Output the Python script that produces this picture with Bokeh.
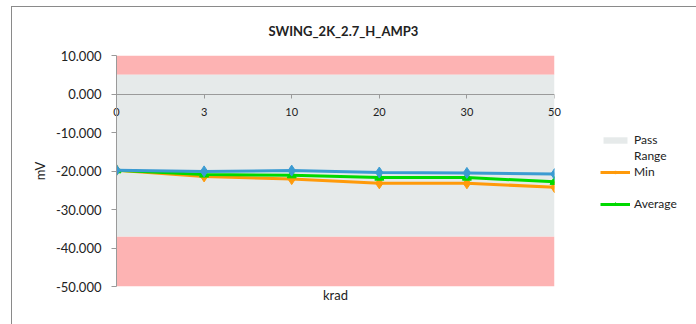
from bokeh.plotting import figure
from bokeh.models import (FixedTicker, NumeralTickFormatter, LinearAxis, Legend, LegendItem,
                          Range1d, CustomJSTickFormatter)
from bokeh.embed import file_html
from bokeh.resources import INLINE

title = "SWING_2K_2.7_H_AMP3"
categories = ["0", "3", "10", "20", "30", "50"]
max_vals = [-19.8, -20.1, -19.9, -20.4, -20.5, -20.8]
min_vals = [-19.8, -21.4, -22.1, -23.2, -23.2, -24.2]
avg_vals = [-19.8, -20.9, -21.1, -21.7, -21.7, -22.8]
pass_upper = 5.0
pass_lower = -37.0
y_min, y_max = -50.0, 10.0
y_ticks = [10, 0, -10, -20, -30, -40, -50]

FONT = "Lato"
TXT = "#222222"
AX = "#9a9a9a"
xs = list(range(len(categories)))

p = figure(width=679, height=320, output_backend="svg", toolbar_location=None,
           x_range=Range1d(0, len(categories) - 1), y_range=Range1d(y_min, y_max),
           min_border_left=104, min_border_top=48, min_border_bottom=39, min_border_right=10,
           frame_width=438, frame_height=231)
p.styles = {"border": "1px solid #8a8a8a", "box-sizing": "border-box",
            "margin-left": "11px", "margin-top": "6px"}
p.outline_line_color = None
p.xgrid.visible = False
p.ygrid.visible = False
p.background_fill_color = "white"

p.title.text = title
p.title.align = "left"
p.title.vertical_align = "top"
p.title.offset = 152
p.title.text_font = FONT
p.title.text_font_size = "13px"
p.title.text_font_style = "bold"
p.title.text_color = TXT
p.title.standoff = 29

# background bands
x_edges = [0, len(categories) - 1]
p.varea(x=x_edges, y1=[pass_upper] * 2, y2=[y_max] * 2, fill_color="#fdb3b3")
p.varea(x=x_edges, y1=[y_min] * 2, y2=[pass_lower] * 2, fill_color="#fdb3b3")
band = p.varea(x=x_edges, y1=[pass_lower] * 2, y2=[pass_upper] * 2, fill_color="#e6eaea")

# series
r_min_l = p.line(xs, min_vals, line_color="#ff9a0a", line_width=3)
r_min_m = p.scatter(xs, min_vals, marker="diamond", size=11, fill_color="#ff9a0a", line_color="#ff9a0a")
r_avg_l = p.line(xs, avg_vals, line_color="#00d900", line_width=3)
r_avg_m = p.scatter(xs, avg_vals, marker="triangle", size=9, fill_color="#00d900", line_color="#00d900")
r_max_l = p.line(xs, max_vals, line_color="#3b9bd2", line_width=3)
r_max_m = p.scatter(xs, max_vals, marker="diamond", size=11, fill_color="#3b9bd2", line_color="#3b9bd2")

# legend spacer (no data)
blank_proxy = p.line([], [], line_alpha=0)

# y axis
yax = p.yaxis[0]
yax.ticker = FixedTicker(ticks=y_ticks)
yax.formatter = NumeralTickFormatter(format="0.000")
yax.axis_label = "mV"
yax.axis_label_text_font = FONT
yax.axis_label_text_font_style = "normal"
yax.axis_label_text_font_size = "13px"
yax.axis_label_text_color = TXT
yax.axis_label_standoff = 5
yax.major_label_text_font = FONT
yax.major_label_text_font_size = "13px"
yax.major_label_text_color = TXT
yax.major_label_standoff = 10
yax.axis_line_color = AX
yax.major_tick_line_color = AX
yax.major_tick_out = 5
yax.major_tick_in = 0
yax.minor_tick_line_color = None

# x axis line and ticks at y = 0
xax = p.xaxis[0]
xax.fixed_location = 0
xax.ticker = FixedTicker(ticks=xs)
xax.formatter = CustomJSTickFormatter(code="return ''")
xax.axis_line_color = AX
xax.major_tick_line_color = AX
xax.major_tick_out = 4
xax.major_tick_in = 0
xax.minor_tick_line_color = None

# x category labels (drawn from bottom axis, shifted up to the zero line)
xlab = LinearAxis(ticker=FixedTicker(ticks=xs))
xlab.major_label_overrides = {i: c for i, c in enumerate(categories)}
xlab.axis_line_color = None
xlab.major_tick_line_color = None
xlab.minor_tick_line_color = None
xlab.major_tick_out = 0
xlab.major_tick_in = 0
xlab.major_label_standoff = -179
xlab.major_label_text_font = FONT
xlab.major_label_text_font_size = "11px"
xlab.major_label_text_color = TXT
p.add_layout(xlab, "below")

# axis title at bottom
lab = LinearAxis(axis_label="krad", ticker=FixedTicker(ticks=[]))
lab.axis_line_color = None
lab.major_tick_line_color = None
lab.minor_tick_line_color = None
lab.axis_label_text_font = FONT
lab.axis_label_text_font_style = "normal"
lab.axis_label_text_font_size = "13px"
lab.axis_label_text_color = TXT
lab.axis_label_standoff = 0
p.add_layout(lab, "below")

legend = Legend(items=[
    LegendItem(label="Pass", renderers=[band]),
    LegendItem(label="Range", renderers=[blank_proxy]),
    LegendItem(label="Min", renderers=[r_min_l, r_min_m]),
    LegendItem(label=" ", renderers=[blank_proxy]),
    LegendItem(label="Average", renderers=[r_avg_l, r_avg_m]),
], location=(46, 75))
legend.label_text_font = FONT
legend.label_text_font_size = "12px"
legend.label_text_color = TXT
legend.border_line_color = None
legend.background_fill_alpha = 0
legend.glyph_width = 30
legend.glyph_height = 8
legend.label_height = 15
legend.spacing = 1
legend.label_standoff = 4
legend.padding = 0
p.add_layout(legend, "right")

open("out.html", "w").write(file_html(p, INLINE))
